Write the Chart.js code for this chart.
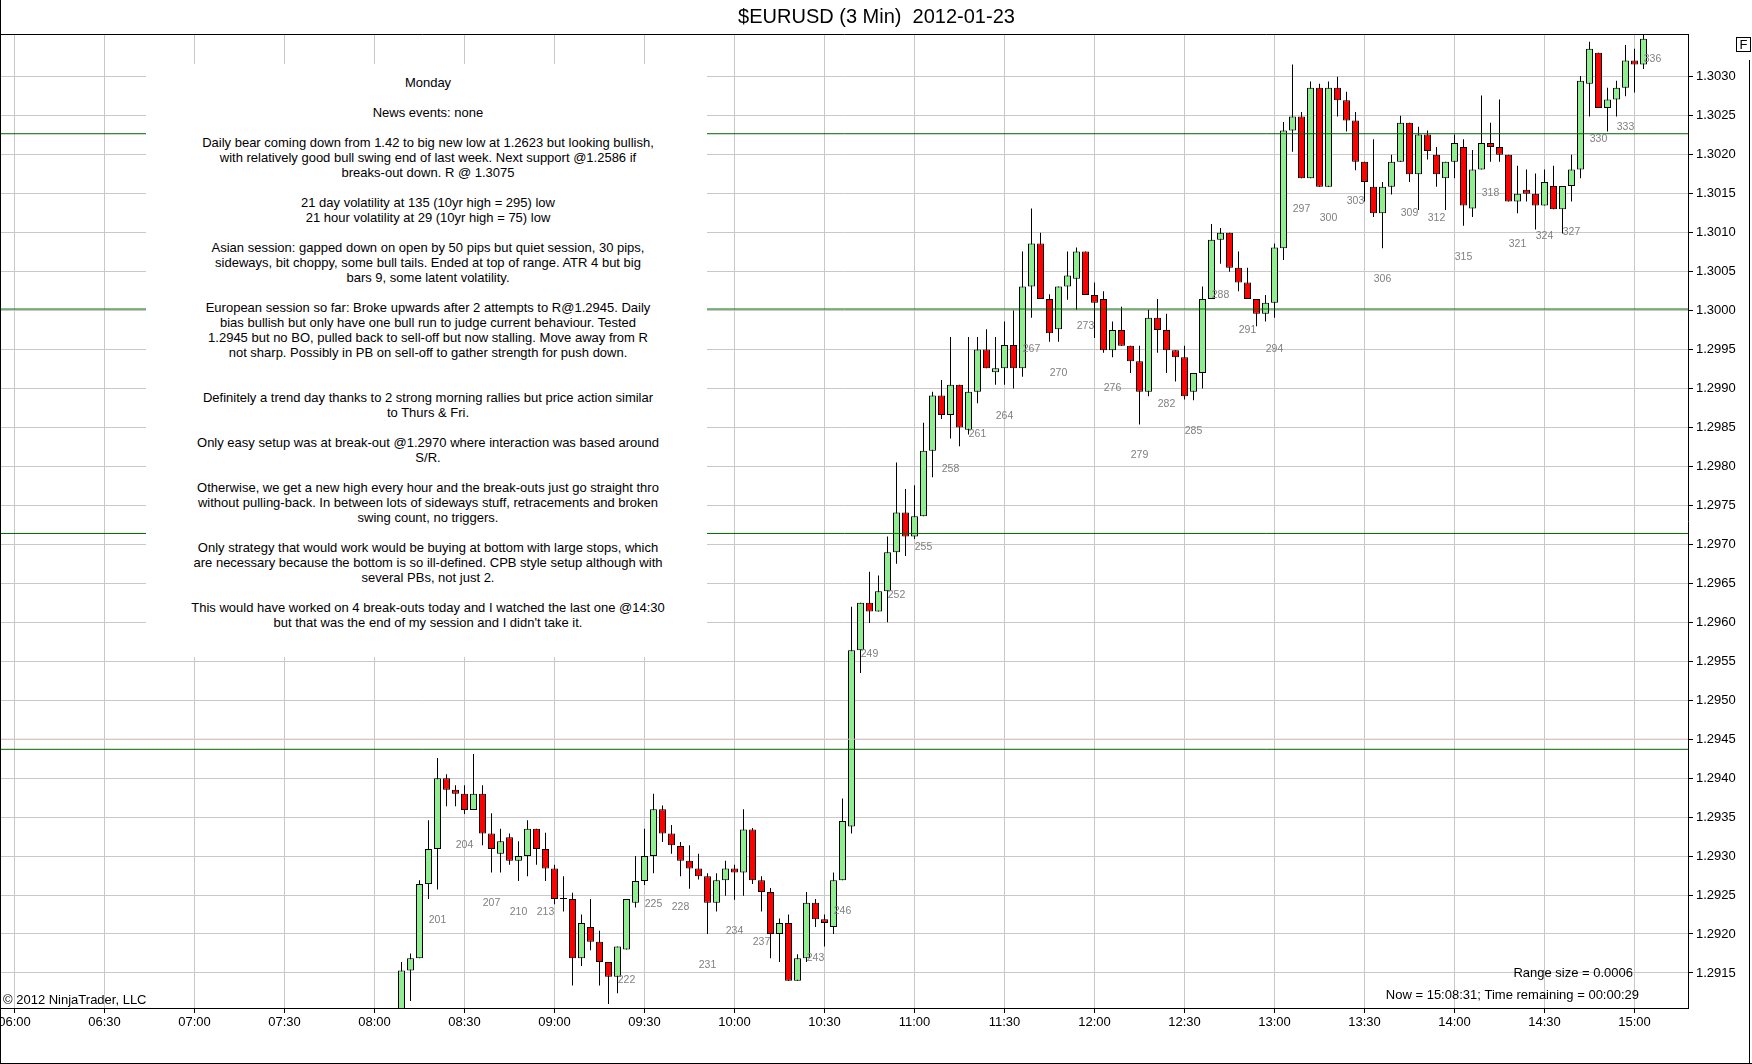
<!DOCTYPE html>
<html>
<head>
<meta charset="utf-8">
<title>$EURUSD (3 Min) 2012-01-23</title>
<script src="https://cdn.jsdelivr.net/npm/chart.js@4.4.1/dist/chart.umd.min.js"></script>
<style>
  html, body { margin: 0; padding: 0; background: #fff; }
  #wrap { position: relative; width: 1752px; height: 1064px; overflow: hidden; }
  #chart { position: absolute; left: 0; top: 0; }
  #note {
    position: absolute; left: 146px; top: 64px; width: 561px; height: 593px;
    box-sizing: border-box; padding: 11px 0 0 3px; background: #fff; color: #000;
    font: 13px "Liberation Sans", Arial, sans-serif; line-height: 15px;
    text-align: center; white-space: pre;
  }
</style>
</head>
<body>
<div id="wrap">
  <canvas id="chart" width="1752" height="1064"></canvas>
  <div id="note"></div>
</div>
<script>
// 3 minute bars, bar 197 = 08:09 ... bar 336 = 15:06
const times = [
  "08:09","08:12","08:15","08:18","08:21","08:24","08:27","08:30","08:33","08:36","08:39","08:42","08:45","08:48","08:51","08:54","08:57",
  "09:00","09:03","09:06","09:09","09:12","09:15","09:18","09:21","09:24","09:27","09:30","09:33","09:36","09:39","09:42","09:45","09:48","09:51","09:54","09:57",
  "10:00","10:03","10:06","10:09","10:12","10:15","10:18","10:21","10:24","10:27","10:30","10:33","10:36","10:39","10:42","10:45","10:48","10:51","10:54","10:57",
  "11:00","11:03","11:06","11:09","11:12","11:15","11:18","11:21","11:24","11:27","11:30","11:33","11:36","11:39","11:42","11:45","11:48","11:51","11:54","11:57",
  "12:00","12:03","12:06","12:09","12:12","12:15","12:18","12:21","12:24","12:27","12:30","12:33","12:36","12:39","12:42","12:45","12:48","12:51","12:54","12:57",
  "13:00","13:03","13:06","13:09","13:12","13:15","13:18","13:21","13:24","13:27","13:30","13:33","13:36","13:39","13:42","13:45","13:48","13:51","13:54","13:57",
  "14:00","14:03","14:06","14:09","14:12","14:15","14:18","14:21","14:24","14:27","14:30","14:33","14:36","14:39","14:42","14:45","14:48","14:51","14:54","14:57",
  "15:00","15:03","15:06",
];

const opens = [
  1.29080,1.29153,1.29169,1.29264,1.29309,1.29400,1.29385,1.29380,1.29359,1.29380,1.29329,1.29303,1.29324,1.29294,1.29300,1.29335,1.29309,
  1.29284,1.29245,1.29245,1.29169,1.29209,1.29190,1.29164,1.29145,1.29180,1.29240,1.29268,1.29300,1.29360,1.29329,1.29313,1.29294,1.29284,1.29274,1.29240,1.29269,
  1.29284,1.29279,1.29334,1.29269,1.29254,1.29200,1.29214,1.29140,1.29169,1.29240,1.29219,1.29209,1.29269,1.29338,1.29564,1.29625,1.29614,1.29640,1.29690,1.29741,
  1.29710,1.29736,1.29820,1.29891,1.29866,1.29905,1.29847,1.29896,1.29950,1.29921,1.29926,1.29956,1.29926,1.30031,1.30086,1.30015,1.29976,1.30031,1.30041,1.30076,
  1.30020,1.30015,1.29949,1.29975,1.29955,1.29935,1.29896,1.29991,1.29975,1.29949,1.29940,1.29896,1.29920,1.30015,1.30091,1.30100,1.30055,1.30036,1.30015,1.29996,
  1.30010,1.30080,1.30231,1.30249,1.30170,1.30286,1.30159,1.30286,1.30270,1.30244,1.30191,1.30159,1.30125,1.30159,1.30191,1.30241,1.30175,1.30226,1.30200,1.30170,
  1.30191,1.30210,1.30131,1.30181,1.30215,1.30210,1.30200,1.30140,1.30155,1.30150,1.30135,1.30160,1.30130,1.30160,1.30181,1.30291,1.30331,1.30260,1.30271,1.30286,
  1.30321,1.30316,1.30365,
];

const highs = [
  1.29164,1.29175,1.29269,1.29346,1.29426,1.29405,1.29391,1.29391,1.29431,1.29391,1.29355,1.29335,1.29329,1.29319,1.29346,1.29335,1.29330,
  1.29289,1.29274,1.29253,1.29225,1.29245,1.29204,1.29164,1.29184,1.29245,1.29300,1.29335,1.29380,1.29365,1.29340,1.29318,1.29314,1.29303,1.29278,1.29278,1.29294,
  1.29289,1.29360,1.29336,1.29274,1.29259,1.29220,1.29225,1.29174,1.29254,1.29245,1.29225,1.29279,1.29374,1.29620,1.29625,1.29665,1.29660,1.29710,1.29805,1.29771,
  1.29776,1.29856,1.29896,1.29911,1.29966,1.29905,1.29966,1.29966,1.29976,1.29966,1.29986,1.30000,1.30076,1.30131,1.30100,1.30021,1.30031,1.30076,1.30081,1.30076,
  1.30036,1.30025,1.29986,1.30005,1.29955,1.29955,1.30001,1.30015,1.29996,1.29949,1.29955,1.29920,1.30031,1.30111,1.30106,1.30100,1.30076,1.30055,1.30015,1.30020,
  1.30086,1.30242,1.30316,1.30255,1.30294,1.30291,1.30294,1.30300,1.30281,1.30255,1.30191,1.30220,1.30165,1.30200,1.30250,1.30241,1.30236,1.30231,1.30210,1.30191,
  1.30226,1.30220,1.30206,1.30276,1.30241,1.30271,1.30200,1.30186,1.30181,1.30176,1.30181,1.30186,1.30160,1.30200,1.30301,1.30345,1.30331,1.30286,1.30295,1.30341,
  1.30336,1.30356,1.30400,
];

const lows = [
  1.29060,1.29114,1.29169,1.29245,1.29257,1.29364,1.29364,1.29354,1.29359,1.29314,1.29279,1.29279,1.29289,1.29268,1.29274,1.29289,1.29268,
  1.29238,1.29229,1.29134,1.29159,1.29179,1.29134,1.29110,1.29124,1.29180,1.29234,1.29263,1.29278,1.29318,1.29303,1.29274,1.29258,1.29270,1.29200,1.29229,1.29249,
  1.29244,1.29249,1.29264,1.29229,1.29169,1.29164,1.29140,1.29140,1.29164,1.29209,1.29184,1.29200,1.29269,1.29329,1.29535,1.29599,1.29614,1.29600,1.29675,1.29685,
  1.29707,1.29736,1.29786,1.29861,1.29836,1.29826,1.29841,1.29881,1.29926,1.29905,1.29905,1.29900,1.29915,1.29991,1.30015,1.29960,1.29960,1.30014,1.30001,1.30020,
  1.29965,1.29946,1.29940,1.29955,1.29920,1.29854,1.29890,1.29946,1.29920,1.29909,1.29886,1.29885,1.29900,1.30015,1.30060,1.30050,1.30025,1.30015,1.29980,1.29986,
  1.29991,1.30065,1.30204,1.30170,1.30170,1.30159,1.30159,1.30249,1.30230,1.30180,1.30140,1.30120,1.30080,1.30149,1.30191,1.30165,1.30129,1.30194,1.30159,1.30129,
  1.30170,1.30109,1.30120,1.30181,1.30191,1.30191,1.30140,1.30125,1.30140,1.30104,1.30135,1.30130,1.30099,1.30140,1.30170,1.30249,1.30260,1.30230,1.30249,1.30275,
  1.30280,1.30310,1.30362,
];

const closes = [
  1.29153,1.29169,1.29264,1.29309,1.29400,1.29385,1.29380,1.29359,1.29380,1.29329,1.29309,1.29319,1.29294,1.29300,1.29335,1.29309,1.29284,
  1.29245,1.29245,1.29169,1.29214,1.29190,1.29164,1.29145,1.29184,1.29245,1.29268,1.29300,1.29360,1.29329,1.29314,1.29294,1.29284,1.29274,1.29240,1.29269,1.29284,
  1.29279,1.29334,1.29269,1.29254,1.29200,1.29214,1.29140,1.29169,1.29240,1.29219,1.29214,1.29269,1.29345,1.29564,1.29625,1.29614,1.29640,1.29690,1.29741,1.29710,
  1.29736,1.29820,1.29891,1.29866,1.29905,1.29850,1.29896,1.29950,1.29926,1.29926,1.29956,1.29926,1.30031,1.30086,1.30015,1.29971,1.30031,1.30045,1.30076,1.30020,
  1.30010,1.29949,1.29975,1.29955,1.29935,1.29896,1.29991,1.29975,1.29949,1.29940,1.29890,1.29920,1.30015,1.30091,1.30100,1.30055,1.30036,1.30015,1.29996,1.30010,
  1.30081,1.30231,1.30249,1.30170,1.30286,1.30159,1.30286,1.30270,1.30244,1.30191,1.30165,1.30125,1.30159,1.30191,1.30241,1.30175,1.30226,1.30205,1.30175,1.30191,
  1.30215,1.30135,1.30181,1.30215,1.30210,1.30200,1.30140,1.30150,1.30150,1.30135,1.30165,1.30130,1.30160,1.30181,1.30295,1.30336,1.30260,1.30271,1.30286,1.30321,
  1.30316,1.30349,1.30390,
];

const firstBarNumber = 197;
const greenLevels = [1.30227, 1.30002, 1.29714, 1.29437];
const faintLevels = [1.2945];

const xTickLabels = [
  "06:00","06:30","07:00","07:30","08:00","08:30","09:00","09:30","10:00","10:30",
  "11:00","11:30","12:00","12:30","13:00","13:30","14:00","14:30","15:00",
];
const yTickValues = [
  1.2915, 1.2920, 1.2925, 1.2930, 1.2935, 1.2940, 1.2945, 1.2950, 1.2955, 1.2960, 1.2965, 1.2970,
  1.2975, 1.2980, 1.2985, 1.2990, 1.2995, 1.3000, 1.3005, 1.3010, 1.3015, 1.3020, 1.3025, 1.3030,
];

const noteLines = [
  "Monday",
  "",
  "News events: none",
  "",
  "Daily bear coming down from 1.42 to big new low at 1.2623 but looking bullish,",
  "with relatively good bull swing end of last week. Next support @1.2586 if",
  "breaks-out down. R @ 1.3075",
  "",
  "21 day volatility at 135 (10yr high = 295) low",
  "21 hour volatility at 29 (10yr high = 75) low",
  "",
  "Asian session: gapped down on open by 50 pips but quiet session, 30 pips,",
  "sideways, bit choppy, some bull tails. Ended at top of range. ATR 4 but big",
  "bars 9, some latent volatility.",
  "",
  "European session so far: Broke upwards after 2 attempts to R@1.2945. Daily",
  "bias bullish but only have one bull run to judge current behaviour. Tested",
  "1.2945 but no BO, pulled back to sell-off but now stalling. Move away from R",
  "not sharp. Possibly in PB on sell-off to gather strength for push down.",
  "",
  "",
  "Definitely a trend day thanks to 2 strong morning rallies but price action similar",
  "to Thurs & Fri.",
  "",
  "Only easy setup was at break-out @1.2970 where interaction was based around",
  "S/R.",
  "",
  "Otherwise, we get a new high every hour and the break-outs just go straight thro",
  "without pulling-back. In between lots of sideways stuff, retracements and broken",
  "swing count, no triggers.",
  "",
  "Only strategy that would work would be buying at bottom with large stops, which",
  "are necessary because the bottom is so ill-defined. CPB style setup although with",
  "several PBs, not just 2.",
  "",
  "This would have worked on 4 break-outs today and I watched the last one @14:30",
  "but that was the end of my session and I didn't take it.",
];

document.getElementById("note").textContent = noteLines.join("\n");

const FONT = '"Liberation Sans", Arial, sans-serif';
const toMinutes = (s) => {
  const [h, m] = s.split(":").map(Number);
  return h * 60 + m;
};
const pad2 = (n) => String(n).padStart(2, "0");

// x axis in minutes of the day, 3px per minute
const xMin = 355.5;
const xMax = 355.5 + 1687 / 3;

const bodies = times.map((t, i) => ({ x: toMinutes(t), y: [opens[i], closes[i]] }));
const wicks = times.map((t, i) => ({ x: toMinutes(t), y: [lows[i], highs[i]] }));
const bodyColors = times.map((t, i) => (closes[i] >= opens[i] ? "#90EE90" : "#FF0000"));

const levelDataset = (v, color) => ({
  type: "line",
  data: [
    { x: xMin, y: v },
    { x: xMax, y: v },
  ],
  borderColor: color,
  borderWidth: 1,
  pointRadius: 0,
  order: 0,
});

const barLabels = {
  id: "barLabels",
  afterDatasetsDraw(chart) {
    const { ctx, chartArea, scales } = chart;
    ctx.save();
    ctx.beginPath();
    ctx.rect(chartArea.left, chartArea.top, chartArea.right - chartArea.left, chartArea.bottom - chartArea.top);
    ctx.clip();
    ctx.font = `10.5px ${FONT}`;
    ctx.fillStyle = "#808080";
    ctx.textAlign = "center";
    ctx.textBaseline = "middle";
    times.forEach((t, i) => {
      const n = firstBarNumber + i;
      if (n % 3 !== 0) return;
      const x = scales.x.getPixelForValue(toMinutes(t));
      const y = scales.y.getPixelForValue(lows[i]) + 31;
      if (y > chartArea.bottom - 5) return; // label would fall under the axis
      ctx.fillText(String(n), x, y);
    });
    ctx.restore();
  },
};

const frame = {
  id: "frame",
  afterDraw(chart) {
    const { ctx, chartArea } = chart;
    ctx.save();
    ctx.strokeStyle = "#000";
    ctx.lineWidth = 1;
    ctx.beginPath();
    // plot top / left edge and outer window edges
    ctx.moveTo(0, chartArea.top + 0.5);
    ctx.lineTo(chartArea.right + 1, chartArea.top + 0.5);
    ctx.moveTo(0.5, 0);
    ctx.lineTo(0.5, 1064);
    ctx.moveTo(1749.5, 60);
    ctx.lineTo(1749.5, 1064);
    ctx.moveTo(0, 1063.5);
    ctx.lineTo(1752, 1063.5);
    ctx.stroke();

    // "F" button
    ctx.strokeRect(1736.5, 37.5, 14, 14);
    ctx.fillStyle = "#000";
    ctx.font = `13px ${FONT}`;
    ctx.textAlign = "center";
    ctx.textBaseline = "middle";
    ctx.fillText("F", 1743.5, 45);

    ctx.textAlign = "left";
    ctx.fillText("\u00A9 2012 NinjaTrader, LLC", 3, 1000.5);
    ctx.textAlign = "right";
    ctx.fillText("Range size = 0.0006", 1633, 973);
    ctx.fillText("Now = 15:08:31; Time remaining = 00:00:29", 1639, 995);
    ctx.restore();
  },
};

Chart.defaults.font.family = FONT;
Chart.defaults.color = "#000";

new Chart(document.getElementById("chart").getContext("2d"), {
  type: "bar",
  data: {
    datasets: [
      {
        label: "bodies",
        data: bodies,
        backgroundColor: bodyColors,
        borderColor: "#000",
        borderWidth: 1,
        borderSkipped: false,
        inflateAmount: 0,
        barThickness: 7,
        minBarLength: 1,
        grouped: false,
        order: 1,
      },
      {
        label: "wicks",
        data: wicks,
        backgroundColor: "#000",
        borderWidth: 0,
        inflateAmount: 0,
        barThickness: 1,
        grouped: false,
        order: 2,
      },
      ...faintLevels.map((v) => levelDataset(v, "#DCC4C4")),
      ...greenLevels.map((v) => levelDataset(v, "#006400")),
    ],
  },
  options: {
    responsive: false,
    animation: false,
    layout: {
      padding: { left: 1, right: 0, top: 0, bottom: 0 },
    },
    plugins: {
      legend: { display: false },
      tooltip: { enabled: false },
      title: {
        display: true,
        text: "$EURUSD (3 Min)  2012-01-23",
        color: "#000",
        font: { size: 20, weight: "normal", lineHeight: 1.2 },
        padding: { top: 5, bottom: 5 },
      },
    },
    scales: {
      x: {
        type: "linear",
        position: "bottom",
        min: xMin,
        max: xMax,
        offset: false,
        grid: {
          offset: false,
          color: "#C8C8C8",
          tickColor: "#000",
          tickLength: 5,
        },
        border: { display: true, color: "#000" },
        ticks: {
          autoSkip: false,
          maxRotation: 0,
          padding: 2,
          font: { size: 13 },
          callback: (value) => `${pad2(Math.floor(value / 60))}:${pad2(value % 60)}`,
        },
        afterBuildTicks: (scale) => {
          scale.ticks = xTickLabels.map((s) => ({ value: toMinutes(s) }));
        },
        afterFit: (scale) => {
          scale.height = 56;
          scale.paddingLeft = 0;
          scale.paddingRight = 0;
        },
      },
      y: {
        position: "right",
        min: 1.29105,
        max: 1.30355,
        beginAtZero: false,
        grid: {
          color: "#C8C8C8",
          tickColor: "#000",
          tickLength: 5,
        },
        border: { display: true, color: "#000" },
        ticks: {
          autoSkip: false,
          padding: 3,
          font: { size: 13 },
          callback: (value) => Number(value).toFixed(4),
        },
        afterBuildTicks: (scale) => {
          scale.ticks = yTickValues.map((v) => ({ value: v }));
        },
        afterFit: (scale) => {
          scale.width = 64;
          scale.paddingTop = 0;
          scale.paddingBottom = 0;
        },
      },
    },
  },
  plugins: [barLabels, frame],
});
</script>
</body>
</html>
